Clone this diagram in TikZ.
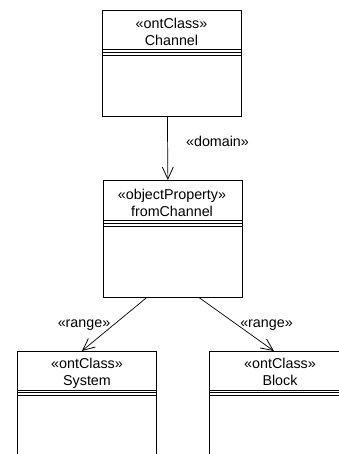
\documentclass[tikz,border=0pt]{standalone}
\usepackage{fontspec}
\setmainfont{Liberation Sans}
\usetikzlibrary{arrows.meta}
\begin{document}
\begin{tikzpicture}[x=1pt,y=-1pt,
  umlbox/.style={draw, line width=0.8pt, minimum width=139pt, anchor=north west, inner sep=0pt},
  txt/.style={font=\fontsize{14.3}{17}\selectfont, anchor=base, inner sep=0pt},
  arr/.style={-{Straight Barb[length=12pt,width=11pt,line width=0.8pt]}, line width=0.7pt},
  comp/.style={line width=0.8pt}]
\useasboundingbox (0,0) rectangle (339,454);
\fill[white] (0,0) rectangle (339,454);

% boxes
\node[umlbox, minimum height=106pt] (channel) at (102,10) {};
\node[umlbox, minimum height=117pt] (fc) at (102.5,180) {};
\node[umlbox, minimum height=130pt] (sys) at (17,351) {};
\node[umlbox, minimum height=130pt] (blk) at (209,351) {};

% compartment lines
\foreach \b/\h in {channel/39.5, fc/40.5, sys/39, blk/39}{
  \foreach \d in {0,2.8,5.6}{
    \draw[comp] ([yshift=-\h pt-\d pt]\b.north west) -- ([yshift=-\h pt-\d pt]\b.north east);
  }
}

% texts
\node[txt] (t1a) at (171.5,28.7) {«ontClass»};
\node[txt] (t1b) at (171.5,46) {Channel};
\node[txt] (t2a) at (172,199.5) {«objectProperty»};
\node[txt] (t2b) at (172,216.8) {fromChannel};
\node[txt] (t3a) at (87,368.5) {«ontClass»};
\node[txt] (t3b) at (87,385.8) {System};
\node[txt] (t4a) at (280,368.5) {«ontClass»};
\node[txt] (t4b) at (280,385.8) {Block};

% connectors
\draw[arr] ([xshift=-4.5pt]channel.south) -- ([xshift=-4.5pt]fc.south |- fc.north);
\draw[arr] ([xshift=-26pt]fc.south) -- ([xshift=-5pt]sys.north);
\draw[arr] ([xshift=27pt]fc.south) -- ([xshift=-5pt]blk.north);

% labels
\node[txt] (ldom) at (217.5,147) {«domain»};
\node[txt] (lr1) at (84,327) {«range»};
\node[txt] (lr2) at (266.5,327) {«range»};
\end{tikzpicture}
\end{document}
